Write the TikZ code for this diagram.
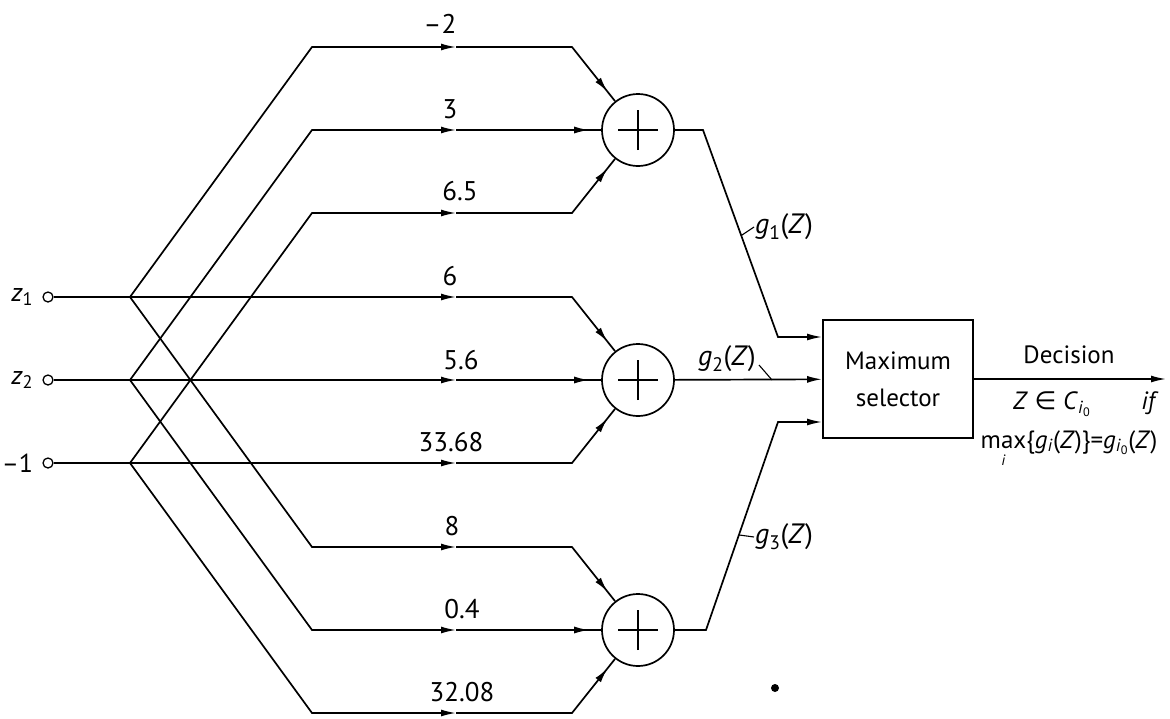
\documentclass[tikz,border=0pt]{standalone}
\usepackage{fontspec}
\setmainfont{PT Sans}
\newfontfamily\symfont{DejaVu Sans}
\usetikzlibrary{arrows.meta,decorations.markings,calc}

\tikzset{
  wire/.style={line width=1.7pt},
  tip/.style={-{Latex[length=15pt,width=7pt]}},
  endmark/.style={postaction={decorate},
    decoration={markings,mark=at position -12pt with {\arrow{Latex[length=15pt,width=7pt]}}}},
  adder/.style={circle,draw,line width=1.7pt,minimum size=72pt,inner sep=0pt,
    path picture={
      \draw[line width=1.3pt] ([xshift=-20pt]path picture bounding box.center) -- ++(40pt,0pt);
      \draw[line width=1.3pt] ([yshift=-20pt]path picture bounding box.center) -- ++(0pt,40pt);
    }},
  port/.style={circle,draw,line width=1.3pt,minimum size=10pt,inner sep=0pt,fill=white},
  weight/.style={font=\fontsize{27}{30}\selectfont,inner sep=0pt},
  inlabel/.style={font=\fontsize{26}{30}\selectfont,inner sep=0pt,anchor=east},
  glabel/.style={font=\fontsize{28}{30}\selectfont,inner sep=1pt},
  outlabel/.style={font=\fontsize{25}{30}\selectfont,inner sep=0pt},
  tick/.style={line width=1.1pt},
}

\begin{document}
\begin{tikzpicture}[x=1pt,y=-1pt]
\useasboundingbox (0,0) rectangle (1170,718);

% inputs
\node[port] (in1) at (48,297) {};
\node[port] (in2) at (48,380) {};
\node[port] (in3) at (48,463) {};
\node[inlabel] (lz1) at ($(in1.west)+(-9,0)$) {\textit{z}\textsubscript{1}};
\node[inlabel] (lz2) at ($(in2.west)+(-9,0)$) {\textit{z}\textsubscript{2}};
\node[inlabel] (lz3) at ($(in3.west)+(-9,0)$) {–1};

% branch points
\coordinate (b1) at (130,297);
\coordinate (b2) at (130,380);
\coordinate (b3) at (130,463);

% adders
\node[adder] (A1) at (638,130) {};
\node[adder] (A2) at (638,380) {};
\node[adder] (A3) at (638,630) {};

% weight arrow positions
\coordinate (w1) at (456,47);
\coordinate (w2) at (456,130);
\coordinate (w3) at (456,213);
\coordinate (w4) at (456,297);
\coordinate (w5) at (456,380);
\coordinate (w6) at (456,463);
\coordinate (w7) at (456,547);
\coordinate (w8) at (456,630);
\coordinate (w9) at (456,713);

% first adder
\draw[wire,tip] (b1) -- (312,47) -- (w1);
\draw[wire,endmark] (w1) -- (572,47) -- (A1);
\draw[wire,tip] (b2) -- (312,130) -- (w2);
\draw[wire,endmark] (w2) -- (A1);
\draw[wire,tip] (b3) -- (312,213) -- (w3);
\draw[wire,endmark] (w3) -- (572,213) -- (A1);

% second adder
\draw[wire,tip] (in1) -- (w4);
\draw[wire,endmark] (w4) -- (572,297) -- (A2);
\draw[wire,tip] (in2) -- (w5);
\draw[wire,endmark] (w5) -- (A2);
\draw[wire,tip] (in3) -- (w6);
\draw[wire,endmark] (w6) -- (572,463) -- (A2);

% third adder
\draw[wire,tip] (b1) -- (312,547) -- (w7);
\draw[wire,endmark] (w7) -- (572,547) -- (A3);
\draw[wire,tip] (b2) -- (312,630) -- (w8);
\draw[wire,endmark] (w8) -- (A3);
\draw[wire,tip] (b3) -- (312,713) -- (w9);
\draw[wire,endmark] (w9) -- (572,713) -- (A3);

% weights
\node[weight] (k1) at (440,24) {–2};
\node[weight] (k2) at (450,109) {3};
\node[weight] (k3) at (460,191) {6.5};
\node[weight] (k4) at (450,276) {6};
\node[weight] (k5) at (461,360) {5.6};
\node[weight] (k6) at (451,442) {33.68};
\node[weight] (k7) at (452,526) {8};
\node[weight] (k8) at (462,609) {0.4};
\node[weight] (k9) at (462,692) {32.08};

% maximum selector
\node[draw,line width=1.9pt,minimum width=150pt,minimum height=118pt,align=center,
      font=\fontsize{25}{37}\selectfont] (M) at (898,379) {Maximum\\selector};

% adder outputs
\coordinate (o1a) at (703,130);
\coordinate (o1b) at (778,337);
\coordinate (o3a) at (706,630);
\coordinate (o3b) at (778,422);
\draw[wire,tip] (A1) -- (o1a) -- (o1b) -- (o1b -| M.west);
\draw[wire,tip] (A2) -- (M);
\draw[wire,tip] (A3) -- (o3a) -- (o3b) -- (o3b -| M.west);

% output labels
\node[glabel,anchor=west] (g1) at (754,227) {\textit{g}\textsubscript{1}(\textit{Z})};
\coordinate (t1) at ($(o1a)!0.51!(o1b)$);
\draw[tick] (t1) -- (g1.west);
\node[glabel] (g2) at (727,359) {\textit{g}\textsubscript{2}(\textit{Z})};
\coordinate (t2) at (772,380);
\draw[tick] ($(g2.east)+(2,6)$) -- (t2);
\node[glabel,anchor=west] (g3) at (754,537) {\textit{g}\textsubscript{3}(\textit{Z})};
\coordinate (t3) at ($(o3a)!0.457!(o3b)$);
\draw[tick] (t3) -- (g3.west);

% decision
\coordinate (out) at (1166,379);
\draw[wire,tip] (M) -- (out);
\node[outlabel] (dec) at (1069,355) {Decision};
\node[outlabel] (cond) at (1052,404) {\textit{Z} {\symfont ∈} \textit{C}\textsubscript{\textit{i}\textsubscript{0}}};
\node[outlabel] (iff) at (1150,403) {\textit{if}};
\node[outlabel,anchor=base] (rule) at (1069,448) {\begin{tabular}[t]{@{}c@{}}max\\[-13pt]\fontsize{15}{15}\selectfont\textit{i}\end{tabular}\{\textit{g}\textsubscript{\textit{i}}(\textit{Z})\}=\textit{g}\textsubscript{\textit{i}\textsubscript{0}}(\textit{Z})};

% speck
\fill (775,688) circle (4pt);
\end{tikzpicture}
\end{document}
